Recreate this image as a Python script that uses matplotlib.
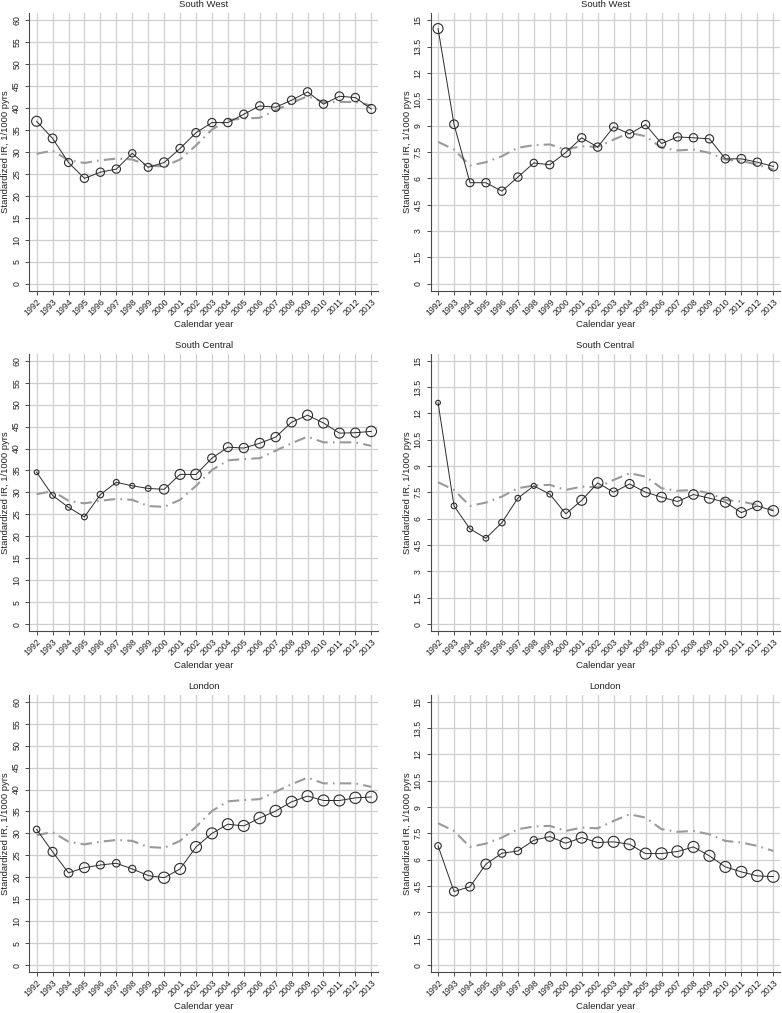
import numpy as np
import matplotlib
matplotlib.use("Agg")
import matplotlib.pyplot as plt

plt.rcParams['font.family'] = ['Liberation Sans', 'DejaVu Sans']

years = list(range(1992, 2014))

# national reference (grey dash-dot), left = rate scale 0-60, right = 0-15
nat_left = [29.6, 30.3, 28.1, 27.5, 28.1, 28.5, 28.3, 26.9, 26.7, 28.3, 31.5, 35.1,
            37.3, 37.6, 37.8, 39.5, 41.2, 42.7, 41.4, 41.4, 41.4, 40.6]
nat_right = [8.08, 7.64, 6.73, 6.92, 7.26, 7.74, 7.89, 7.93, 7.64, 7.83, 7.79, 8.21,
             8.59, 8.40, 7.74, 7.59, 7.64, 7.45, 7.07, 6.98, 6.79, 6.50]

regions = ["South West", "South Central", "London"]

sw_left = [37.0, 33.1, 27.6, 24.0, 25.4, 26.1, 29.7, 26.5, 27.6, 30.8, 34.4, 36.7,
           36.7, 38.6, 40.5, 40.2, 41.8, 43.7, 40.9, 42.7, 42.4, 39.8]
sw_right = [14.53, 9.08, 5.75, 5.75, 5.27, 6.07, 6.88, 6.77, 7.47, 8.31, 7.78, 8.93,
            8.53, 9.06, 7.98, 8.36, 8.31, 8.25, 7.11, 7.11, 6.92, 6.68]
sw_w = [10, 8.7, 8, 8.3, 8.3, 8.3, 7.3, 8, 9.3, 8.3, 8.3, 8.3,
        8.3, 8.3, 8.3, 8.3, 8.3, 8.3, 8.3, 8.7, 8.3, 9]

sc_left = [34.6, 29.3, 26.6, 24.4, 29.5, 32.3, 31.5, 30.9, 30.7, 34.1, 34.1, 37.8,
           40.3, 40.1, 41.2, 42.6, 46.0, 47.6, 45.8, 43.5, 43.6, 43.9]
sc_right = [12.61, 6.73, 5.42, 4.89, 5.78, 7.17, 7.87, 7.40, 6.28, 7.05, 8.04, 7.51,
            7.98, 7.51, 7.23, 6.98, 7.38, 7.17, 6.94, 6.35, 6.73, 6.45]
sc_w = [4.7, 5.7, 5.7, 5.7, 6.5, 5.7, 5, 5.7, 9.5, 10, 10.5, 8.5,
        9, 9.3, 9.7, 9.3, 9.5, 10, 10, 10, 9.3, 10.5]

ld_left = [30.9, 25.8, 21.0, 22.2, 22.8, 23.2, 21.9, 20.4, 19.9, 21.9, 26.9, 30.0,
           32.1, 31.7, 33.5, 35.1, 37.2, 38.5, 37.5, 37.5, 38.1, 38.3]
ld_right = [6.79, 4.19, 4.46, 5.75, 6.37, 6.50, 7.11, 7.32, 6.94, 7.26, 6.98, 7.02,
            6.88, 6.35, 6.35, 6.47, 6.73, 6.22, 5.59, 5.31, 5.08, 5.04]
ld_w = [6.5, 9, 8.7, 10, 8, 7.5, 7.3, 9.5, 11.3, 11, 11, 11,
        11, 11, 11.5, 11.3, 11, 11, 11, 11, 11.3, 11.5]

left_vals = [sw_left, sc_left, ld_left]
right_vals = [sw_right, sc_right, ld_right]
weights = [sw_w, sc_w, ld_w]

W, H = 782, 1013
fig = plt.figure(figsize=(W / 100, H / 100), dpi=100)

row_tops = [13.3, 353.7, 694.7]
ax_h = 277.4
cols = [(29.3, 348.7), (430.7, 349.3)]
grid_c = '#cfcfcf'
axis_c = '#4a4a4a'
line_c = '#2b2b2b'


def px_axes(x0, top, w, h):
    return fig.add_axes([x0 / W, 1 - (top + h) / H, w / W, h / H])


for r in range(3):
    top = row_tops[r]
    for c in range(2):
        x0, w = cols[c]
        ax = px_axes(x0, top, w, ax_h)
        if c == 0:
            vals, nat = left_vals[r], nat_left
            yt = np.arange(0, 61, 5)
            ylim = (-1.6, 61.6)
            ytl = [str(v) for v in yt]
        else:
            vals, nat = right_vals[r], nat_right
            yt = np.arange(0, 15.01, 1.5)
            ylim = (-0.4, 15.4)
            ytl = [('%g' % v) for v in yt]

        ax.plot(years, nat, color='#9a9a9a', lw=1.5, dashes=(5.5, 2.5, 0.8, 2.5), zorder=2)
        ax.plot(years, vals, color=line_c, lw=0.7, zorder=3)
        s = [(d * 0.72) ** 2 for d in weights[r]]
        ax.scatter(years, vals, s=s, facecolors='none', edgecolors=line_c,
                   linewidths=0.8, zorder=4)

        ax.set_xlim(1991.54, 2013.42)
        ax.set_ylim(*ylim)
        ax.set_xticks(years)
        ax.set_xticklabels([str(y) for y in years], rotation=45, ha='right',
                           va='top', rotation_mode='anchor')
        ax.set_yticks(yt)
        ax.set_yticklabels(ytl, rotation=90, va='center', ha='center')
        ax.tick_params(axis='both', labelsize=6.3, length=3, width=0.7,
                       color=axis_c, labelcolor='#222222')
        ax.tick_params(axis='y', pad=6)
        ax.tick_params(axis='x', pad=1.5)

        ax.grid(True, color=grid_c, lw=0.9)
        ax.set_axisbelow(True)
        for sp in ['top', 'right']:
            ax.spines[sp].set_visible(False)
        for sp in ['left', 'bottom']:
            ax.spines[sp].set_color(axis_c)
            ax.spines[sp].set_linewidth(0.8)

        cx = x0 + w / 2
        fig.text(cx / W, 1 - (top - 8.5) / H, regions[r], ha='center', va='center',
                 fontsize=6.8, color='#222222')
        fig.text(cx / W, 1 - (top + 311.5) / H, "Calendar year", ha='center',
                 va='center', fontsize=6.8, color='#222222')
        fig.text((x0 - 23.5) / W, 1 - (top + ax_h / 2) / H,
                 "Standardized IR, 1/1000 pyrs", rotation=90, ha='center',
                 va='center', fontsize=6.8, color='#222222')

fig.savefig("out.png", dpi=100)
